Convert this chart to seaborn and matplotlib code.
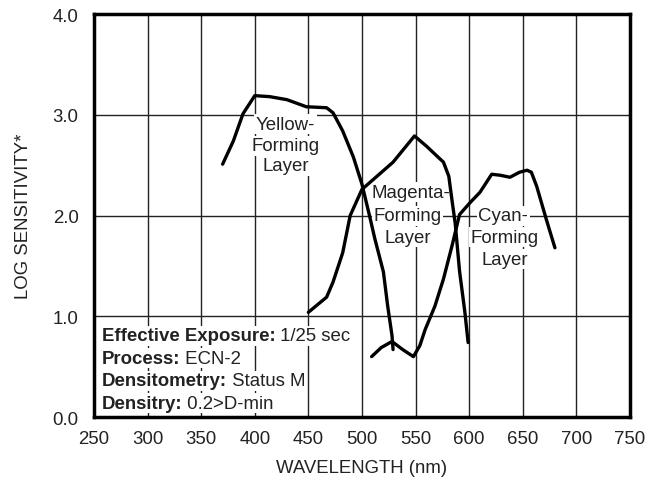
import numpy as np
import pandas as pd
import matplotlib
matplotlib.use('Agg')
import matplotlib.pyplot as plt
import seaborn as sns

# curve values (wavelength nm, log sensitivity)
yellow_nm = [370, 380, 389, 400, 414, 430, 448, 467, 473, 482, 492, 500, 507, 512, 520, 524, 528, 529]
yellow_ls = [2.51, 2.74, 3.01, 3.19, 3.18, 3.15, 3.08, 3.07, 3.02, 2.84, 2.58, 2.31, 2.00, 1.77, 1.44, 1.10, 0.81, 0.67]

magenta_nm = [450, 467, 473, 482, 489, 500, 514, 529, 549, 560, 576, 581, 584, 587, 591, 596, 599]
magenta_ls = [1.04, 1.19, 1.34, 1.63, 2.00, 2.26, 2.39, 2.53, 2.79, 2.69, 2.53, 2.39, 2.15, 1.92, 1.45, 1.04, 0.74]

cyan_nm = [509, 518, 528, 538, 548, 554, 559, 568, 576, 584, 591, 601, 610, 621, 629, 638, 647, 654, 658, 663, 672, 680]
cyan_ls = [0.60, 0.69, 0.75, 0.67, 0.60, 0.71, 0.87, 1.10, 1.37, 1.70, 2.01, 2.13, 2.23, 2.41, 2.40, 2.38, 2.43, 2.45, 2.43, 2.29, 1.96, 1.68]

x_ticks = [250, 300, 350, 400, 450, 500, 550, 600, 650, 700, 750]
y_ticks = [0.0, 1.0, 2.0, 3.0, 4.0]

info_keys = ['Effective Exposure:', 'Process:', 'Densitometry:', 'Densitry:']
info_vals = ['1/25 sec', 'ECN-2', 'Status M', '0.2>D-min']

sns.set_theme(style='white')
plt.rcParams['font.family'] = ['Liberation Sans', 'DejaVu Sans']

FS = 13.4
fig, ax = plt.subplots(figsize=(6.6, 4.85), dpi=100)
fig.subplots_adjust(left=0.1424, right=0.9545, top=0.969, bottom=0.138)

for nm, ls in [(yellow_nm, yellow_ls), (magenta_nm, magenta_ls), (cyan_nm, cyan_ls)]:
    df = pd.DataFrame({'nm': nm, 'ls': ls})
    sns.lineplot(data=df, x='nm', y='ls', color='black', lw=2.4, ax=ax, zorder=3)

ax.set_xlim(250, 750)
ax.set_ylim(0, 4)
ax.set_xticks(x_ticks)
ax.set_yticks(y_ticks)
ax.set_yticklabels([f'{v:.1f}' for v in y_ticks])
ax.grid(True, color='#222', lw=1.0, zorder=0)
ax.set_axisbelow(True)
for s in ax.spines.values():
    s.set_color('black')
    s.set_linewidth(2.5)
ax.tick_params(axis='both', length=0, labelsize=FS, colors='#222')
ax.tick_params(axis='y', pad=11)
ax.tick_params(axis='x', pad=9)
ax.set_xlabel('WAVELENGTH (nm)', fontsize=FS, color='#222', labelpad=9)
ax.set_ylabel('LOG SENSITIVITY*', fontsize=FS, color='#222', labelpad=15)

box = dict(boxstyle='square,pad=0.08', fc='white', ec='none')
labels = [
    ('Yellow-', 428.6, 2.907), ('Forming', 428.6, 2.692), ('Layer', 428.6, 2.493),
    ('Magenta-', 545.5, 2.229), ('Forming', 542.4, 1.997), ('Layer', 542.4, 1.783),
    ('Cyan-', 631.8, 1.997), ('Forming', 633.4, 1.783), ('Layer', 633.4, 1.567),
]
for t, x, y in labels:
    ax.text(x, y, t, ha='center', va='center', fontsize=FS, color='#222', bbox=box, zorder=2)

ys = [0.807, 0.582, 0.36, 0.139]
for k, v, y in zip(info_keys, info_vals, ys):
    tk = ax.text(257.2, y, k, ha='left', va='center', fontsize=FS, fontweight='bold',
                 color='#222', bbox=box, zorder=2)
    ax.annotate(' ' + v, xy=(1, 0.5), xycoords=tk, ha='left', va='center',
                fontsize=FS, color='#222', bbox=box, zorder=2)

fig.savefig('out.png', dpi=100, facecolor='white')
